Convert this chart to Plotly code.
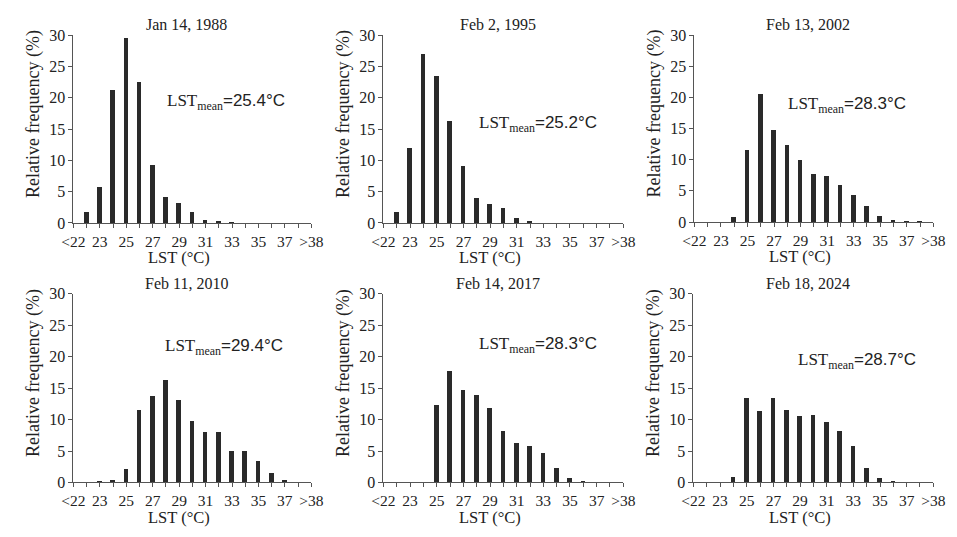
import plotly.graph_objects as go

categories = ["<22", "22", "23", "24", "25", "26", "27", "28", "29", "30",
              "31", "32", "33", "34", "35", "36", "37", "38", ">38"]
label_every = 2

titles = ["Jan 14, 1988", "Feb 2, 1995", "Feb 13, 2002",
          "Feb 11, 2010", "Feb 14, 2017", "Feb 18, 2024"]
means = ["25.4", "25.2", "28.3", "29.4", "28.3", "28.7"]

freq_1988 = [0, 1.8, 5.8, 21.2, 29.6, 22.5, 9.2, 4.2, 3.2, 1.7, 0.5, 0.15, 0.05, 0, 0, 0, 0, 0, 0]
freq_1995 = [0, 1.8, 11.9, 26.9, 23.5, 16.2, 9.1, 3.9, 3.0, 2.4, 0.8, 0.25, 0, 0, 0, 0, 0, 0, 0]
freq_2002 = [0, 0, 0, 0.8, 11.5, 20.6, 14.8, 12.4, 10.0, 7.7, 7.3, 5.9, 4.3, 2.5, 1.0, 0.3, 0.1, 0.05, 0]
freq_2010 = [0, 0.05, 0.2, 0.5, 2.2, 11.5, 13.8, 16.4, 13.2, 9.8, 8.0, 8.1, 5.1, 5.0, 3.4, 1.5, 0.4, 0.1, 0]
freq_2017 = [0, 0, 0, 0, 12.4, 17.7, 14.7, 14.0, 11.9, 8.3, 6.4, 5.9, 4.8, 2.4, 0.7, 0.15, 0.05, 0, 0]
freq_2024 = [0, 0, 0, 0.9, 13.5, 11.4, 13.5, 11.6, 10.6, 10.7, 9.6, 8.3, 5.8, 2.4, 0.8, 0.2, 0.05, 0, 0]

series = [freq_1988, freq_1995, freq_2002, freq_2010, freq_2017, freq_2024]

W, H = 957, 537
# pixel boxes: (left, right, top, bottom)
boxes = [(63, 307, 28, 222), (381, 627, 28, 222), (700, 945, 28, 221),
         (63, 307, 295, 490), (381, 627, 295, 490), (699, 945, 295, 490)]
ann_pos = [(0.385, 0.644), (0.39, 0.526), (0.384, 0.627),
           (0.377, 0.718), (0.39, 0.728), (0.427, 0.641)]

SERIF = "Liberation Serif, Times New Roman, serif"
AX = "#555555"

fig = go.Figure()
annotations = []
xpos = list(range(len(categories)))
lab_pos = xpos[::label_every]
lab_txt = categories[::label_every]
for i, vals in enumerate(series):
    n = i + 1
    xa = "x" if n == 1 else f"x{n}"
    ya = "y" if n == 1 else f"y{n}"
    fig.add_trace(go.Bar(x=xpos, y=vals, xaxis=xa, yaxis=ya, width=0.35,
                         marker=dict(color="#2a2a2a", line=dict(width=0)),
                         hoverinfo="skip"))
    l, r, t, b = boxes[i]
    xd = [l / W, r / W]
    yd = [1 - b / H, 1 - t / H]
    xkey = "xaxis" if n == 1 else f"xaxis{n}"
    ykey = "yaxis" if n == 1 else f"yaxis{n}"
    fig.layout[xkey] = dict(domain=xd, anchor=ya, range=[0, 18], tickmode="array",
                            tickvals=lab_pos, ticktext=lab_txt, ticks="outside",
                            ticklen=4, tickcolor=AX, showline=True, linecolor=AX,
                            linewidth=1, showgrid=False, zeroline=False,
                            minor=dict(tickmode="linear", tick0=0, dtick=1,
                                       ticks="outside", ticklen=4, tickcolor=AX,
                                       showgrid=False),
                            tickfont=dict(family=SERIF, size=15.5, color="#222"))
    fig.layout[ykey] = dict(domain=yd, anchor=xa, range=[0, 30], tickmode="array",
                            tickvals=[0, 5, 10, 15, 20, 25, 30], ticks="outside",
                            ticklen=4, tickcolor=AX, showline=True, linecolor=AX,
                            linewidth=1, showgrid=False, zeroline=False,
                            tickfont=dict(family=SERIF, size=16, color="#222"))
    cx = (l + r) / 2
    # subplot title
    annotations.append(dict(text=titles[i], xref="paper", yref="paper",
                            x=(cx - 6) / W, y=1 - (t - 11) / H, xanchor="center",
                            yanchor="middle", showarrow=False,
                            font=dict(family=SERIF, size=16, color="#222")))
    # x title
    annotations.append(dict(text="LST (°C)", xref="paper", yref="paper",
                            x=(cx - 14) / W, y=1 - (b + 36) / H, xanchor="center",
                            yanchor="middle", showarrow=False,
                            font=dict(family=SERIF, size=16.5, color="#222")))
    # y title
    annotations.append(dict(text="Relative frequency (%)", xref="paper", yref="paper",
                            x=(l - 41) / W, y=1 - ((t + b) / 2 - 16) / H,
                            xanchor="center", yanchor="middle", textangle=-90,
                            showarrow=False,
                            font=dict(family=SERIF, size=18, color="#222")))
    # mean label
    ax_, ay_ = ann_pos[i]
    annotations.append(dict(
        text=("LST<sub>mean</sub><span style=\"font-family:Liberation Sans, Arial, sans-serif\">="
              + means[i] + "°C</span>"),
        xref=f"{xa} domain", yref=f"{ya} domain", x=ax_, y=ay_,
        xanchor="left", yanchor="middle", showarrow=False,
        font=dict(family=SERIF, size=17, color="#222")))

fig.update_layout(width=W, height=H, margin=dict(l=0, r=0, t=0, b=0),
                  paper_bgcolor="white", plot_bgcolor="white", showlegend=False,
                  bargap=0, annotations=annotations)

fig.write_html("out.html", config={"displayModeBar": False},
               post_script="document.body.style.margin='0';document.body.style.overflow='hidden';")
